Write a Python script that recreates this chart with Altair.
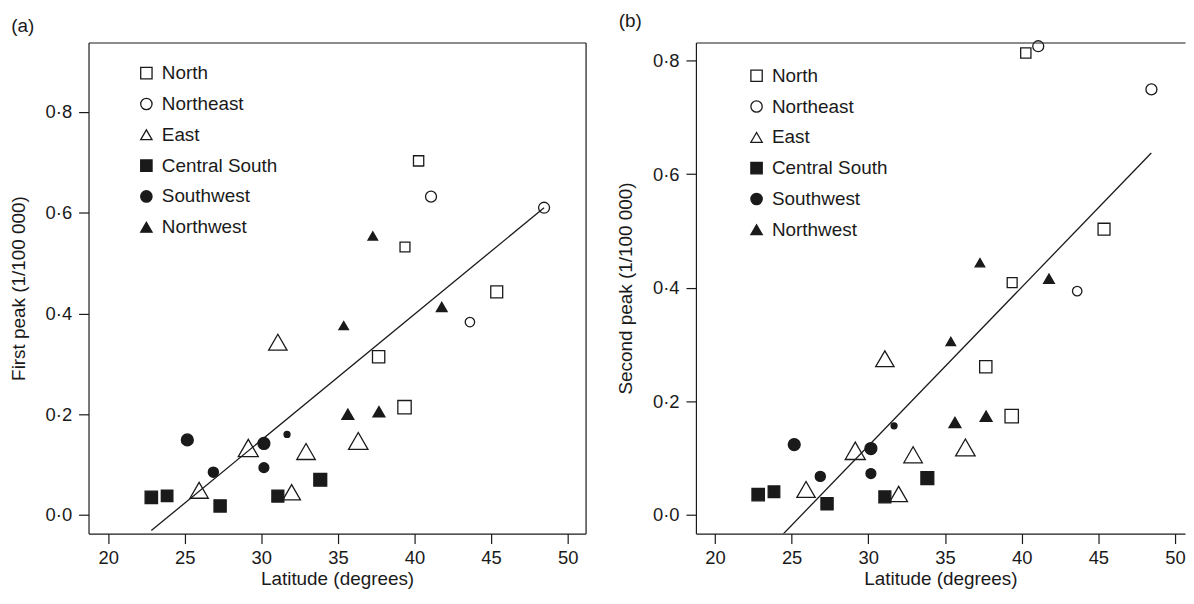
import altair as alt
import pandas as pd

# ---------------- data ----------------
regions = ["North", "Northeast", "East", "Central South", "Southwest", "Northwest"]
region_shapes = ["square", "circle", "triangle-up", "square", "circle", "triangle-up"]
region_fills = ["transparent", "transparent", "transparent", "#1a1a1a", "#1a1a1a", "#1a1a1a"]
region_strokes = ["#1a1a1a"] * 6

region = (["North"] * 5 + ["Northeast"] * 3 + ["East"] * 6 +
          ["Central South"] * 5 + ["Southwest"] * 5 + ["Northwest"] * 5)
latitude = [40.27, 39.38, 45.37, 37.66, 39.35,
            41.08, 48.46, 43.62,
            31.08, 29.15, 32.92, 36.33, 25.94, 31.98,
            22.82, 23.85, 27.31, 31.08, 33.85,
            25.17, 31.68, 30.17, 26.87, 30.17,
            37.28, 41.78, 35.38, 35.65, 37.68]
first_peak = [0.703, 0.532, 0.443, 0.314, 0.214,
              0.632, 0.610, 0.383,
              0.343, 0.133, 0.126, 0.147, 0.049, 0.045,
              0.035, 0.038, 0.018, 0.0375, 0.070,
              0.149, 0.160, 0.142, 0.085, 0.094,
              0.554, 0.413, 0.376, 0.200, 0.205]
second_peak = [0.813, 0.409, 0.503, 0.261, 0.174,
               0.825, 0.749, 0.394,
               0.275, 0.113, 0.106, 0.119, 0.045, 0.037,
               0.036, 0.041, 0.020, 0.032, 0.065,
               0.124, 0.157, 0.117, 0.068, 0.073,
               0.444, 0.416, 0.3055, 0.163, 0.174]
# relative marker size of each province's symbol
marker_rel = [0.86, 0.83, 1.0, 1.03, 1.12,
              0.92, 0.92, 0.79,
              1.54, 1.68, 1.55, 1.63, 1.54, 1.48,
              1.04, 0.97, 1.02, 1.0, 1.08,
              1.0, 0.5, 1.0, 0.85, 0.83,
              0.8, 0.9, 0.8, 1.0, 1.0]

# fitted lines (end points)
fit_lat_a = [22.82, 48.46]
fit_val_a = [-0.031, 0.610]
fit_lat_b = [22.82, 48.45]
fit_val_b = [-0.079, 0.637]

x_ticks = [20, 25, 30, 35, 40, 45, 50]
y_ticks = [0.0, 0.2, 0.4, 0.6, 0.8]

df = pd.DataFrame({"region": region, "lat": latitude, "first": first_peak,
                   "second": second_peak, "rel": marker_rel})

FONT = "Liberation Sans"
INK = "#1a1a1a"
LABEL_EXPR = "replace(format(datum.value, '.1f'), '.', '·')"


def make_legend(lx, ly):
    return alt.Legend(orient="none", legendX=lx, legendY=ly,
                      symbolStrokeColor=INK, symbolStrokeWidth=1.3)


def panel(field, ytitle, tag, xdom, ydom, width, fit_lat, fit_val, lx, ly, right_border):
    xs = alt.Scale(domain=xdom, nice=False, zero=False)
    ys = alt.Scale(domain=ydom, nice=False, zero=False)
    pts = alt.Chart(df).mark_point(filled=True, strokeWidth=1.3, opacity=1).encode(
        x=alt.X("lat:Q", scale=xs,
                axis=alt.Axis(values=x_ticks, title="Latitude (degrees)", orient="bottom")),
        y=alt.Y(field + ":Q", scale=ys,
                axis=alt.Axis(values=y_ticks, labelExpr=LABEL_EXPR, title=ytitle, orient="left")),
        shape=alt.Shape("region:N", title=None,
                        scale=alt.Scale(domain=regions, range=region_shapes),
                        legend=make_legend(lx, ly)),
        fill=alt.Fill("region:N", title=None,
                      scale=alt.Scale(domain=regions, range=region_fills),
                      legend=make_legend(lx, ly)),
        stroke=alt.Stroke("region:N", title=None,
                          scale=alt.Scale(domain=regions, range=region_strokes),
                          legend=make_legend(lx, ly)),
        size=alt.Size("rel:Q", scale=alt.Scale(type="pow", exponent=2, domain=[0, 1], range=[0, 144]),
                      legend=None),
    )
    fit = pd.DataFrame({"lat": fit_lat, "val": fit_val})
    if right_border:
        yaxis2 = alt.Axis(orient="right", labels=False, ticks=False, title=None, grid=False,
                          minExtent=0, maxExtent=0)
    else:
        yaxis2 = None
    line = alt.Chart(fit).mark_line(color=INK, strokeWidth=1.3, clip=True).encode(
        x=alt.X("lat:Q", scale=xs,
                axis=alt.Axis(orient="top", labels=False, ticks=False, title=None, grid=False,
                              minExtent=0, maxExtent=0)),
        y=alt.Y("val:Q", scale=ys, axis=yaxis2),
    )
    return alt.layer(line, pts).resolve_axis(x="independent", y="independent").properties(
        width=width, height=494,
        title=alt.TitleParams(tag, anchor="start", frame="bounds", offset=7, dx=2),
    )


pa = panel("first", "First peak (1/100 000)", "(a)", [18.72, 51.17], [-0.037, 0.938], 500,
           fit_lat_a, fit_val_a, 48.7, 21.3, True)
pb = panel("second", "Second peak (1/100 000)", "(b)", [18.76, 50.65], [-0.0327, 0.8315], 492,
           fit_lat_b, fit_val_b, 51.5, 23.9, False)

chart = alt.hconcat(pa, pb, spacing=29).resolve_scale(
    x="independent", y="independent", shape="independent", fill="independent",
    stroke="independent", size="independent"
).configure(
    padding={"left": 0, "top": 2, "right": 0, "bottom": 0},
    font=FONT,
).configure_view(
    stroke="transparent"
).configure_axis(
    grid=False, domain=True, domainColor=INK, domainWidth=1.2,
    tickColor=INK, tickWidth=1.2, tickSize=10,
    labelFont=FONT, labelFontSize=18.5, labelColor=INK,
    titleFont=FONT, titleFontSize=19, titleFontWeight="normal", titleColor=INK,
).configure_axisX(titlePadding=3, labelPadding=5).configure_axisY(
    titlePadding=17, labelPadding=7
).configure_legend(
    labelFont=FONT, labelFontSize=19, labelColor=INK, labelOffset=6,
    symbolSize=130, symbolStrokeWidth=1.3, symbolStrokeColor=INK,
    rowPadding=11, padding=0,
).configure_title(
    font=FONT, fontSize=19, fontWeight="normal", color=INK
)

chart.save("out.html", embed_options={"renderer": "svg", "actions": False})
